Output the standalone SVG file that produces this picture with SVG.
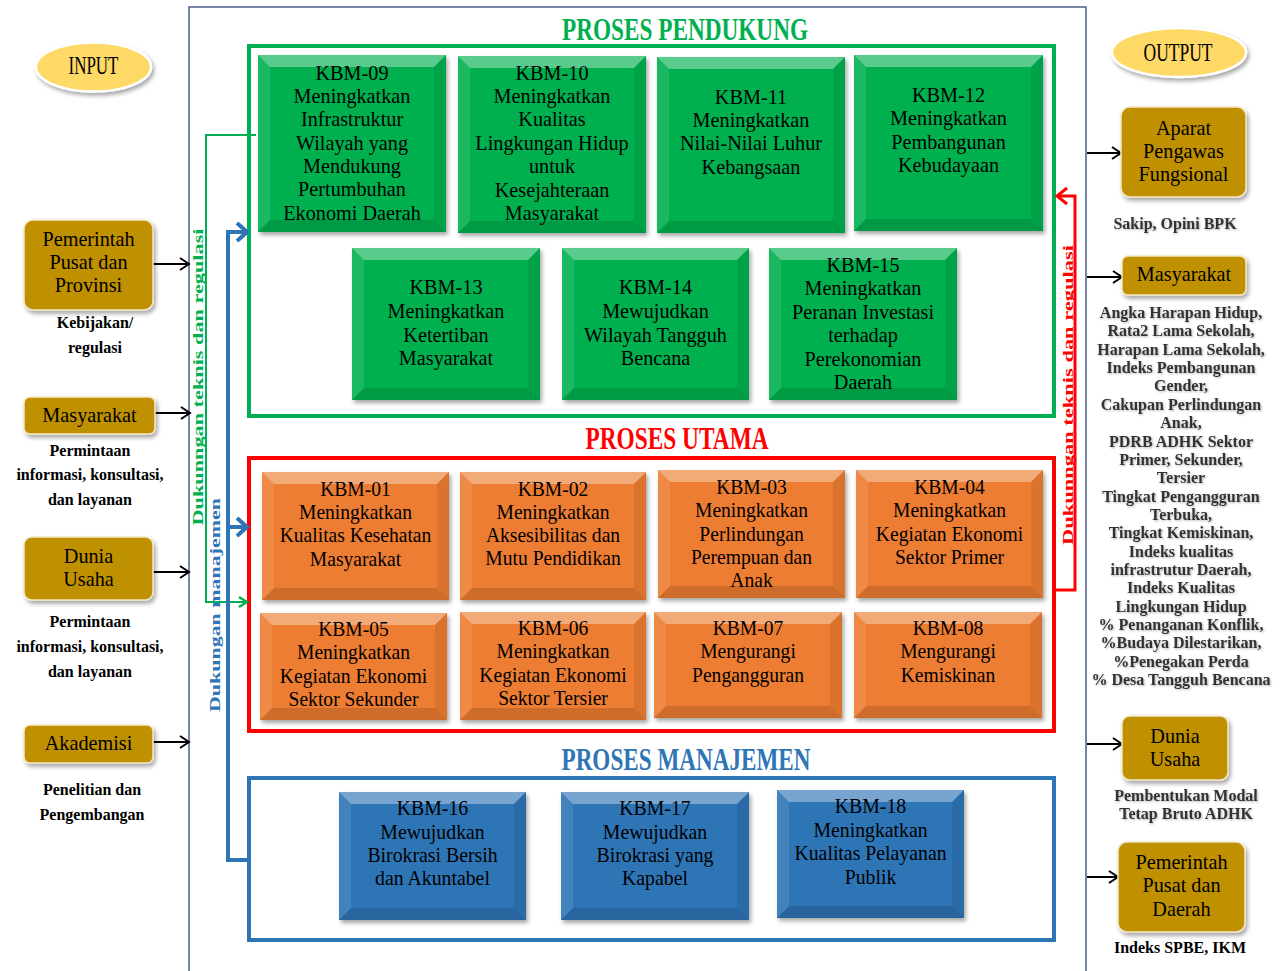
<svg xmlns="http://www.w3.org/2000/svg" width="1281" height="971" viewBox="0 0 1281 971">
<defs>
<style>
.kt{font-family:"Liberation Serif","Times New Roman",serif;font-size:22px;text-anchor:middle;fill:#000}
.gt{font-family:"Liberation Serif","Times New Roman",serif;font-size:22px;text-anchor:middle;fill:#000}
.lb{font-family:"Liberation Serif","Times New Roman",serif;font-weight:bold;font-size:16px;text-anchor:middle;fill:#000}
.rb{font-family:"Liberation Serif","Times New Roman",serif;font-weight:bold;font-size:16px;text-anchor:middle;fill:#333}
.ttl{font-family:"Liberation Serif","Times New Roman",serif;font-weight:bold;font-size:32px;text-anchor:middle}
.rot{font-family:"Liberation Serif","Times New Roman",serif;font-weight:bold;font-size:15px;text-anchor:middle}
.g{fill:#00b050}
.o{fill:#ed7d31}
.b{fill:#2e75b6}
.bt{fill:#fff;opacity:.35}
.bb{fill:#000;opacity:.13}
.bl{fill:#fff;opacity:.1}
.br{fill:#000;opacity:.08}
.gold{fill:#bf9000;stroke:#f2e6c4;stroke-width:1.5}
.ell{fill:#ffd966;stroke:#fff;stroke-width:2.5}
.ka{fill:none;stroke:#000;stroke-width:2}
</style>
<filter id="sh" x="-10%" y="-10%" width="130%" height="130%">
<feDropShadow dx="2" dy="3" stdDeviation="2" flood-color="#000" flood-opacity="0.35"/>
</filter>
<filter id="ts" x="-5%" y="-20%" width="110%" height="150%">
<feDropShadow dx="1" dy="1" stdDeviation="0.8" flood-color="#000" flood-opacity="0.3"/>
</filter>
<marker id="ak" markerUnits="userSpaceOnUse" markerWidth="14" markerHeight="14" refX="12" refY="7" orient="auto" overflow="visible"><path d="M3,1 L12,7 L3,13" fill="none" stroke="#000" stroke-width="2"/></marker>
<marker id="ab" markerUnits="userSpaceOnUse" markerWidth="14" markerHeight="20" refX="12" refY="10" orient="auto" overflow="visible"><path d="M2,1 L12,10 L2,19" fill="none" stroke="#2e75b6" stroke-width="4"/></marker>
<marker id="ag" markerUnits="userSpaceOnUse" markerWidth="12" markerHeight="12" refX="10" refY="6" orient="auto" overflow="visible"><path d="M2,1 L10,6 L2,11" fill="none" stroke="#00b050" stroke-width="2.5"/></marker>
<marker id="ar" markerUnits="userSpaceOnUse" markerWidth="14" markerHeight="18" refX="12" refY="9" orient="auto" overflow="visible"><path d="M2,1 L12,9 L2,17" fill="none" stroke="#ff0000" stroke-width="3"/></marker>
</defs>
<rect width="1281" height="971" fill="#fff"/>

<g id="frame">
<rect x="189" y="7" width="897" height="975" fill="none" stroke="#4a5f8c" stroke-width="1.5"/>
</g>

<g id="group-pendukung">
<text class="ttl" x="685" y="40" fill="#00b050" textLength="246" lengthAdjust="spacingAndGlyphs">PROSES PENDUKUNG</text>
<rect x="249" y="46" width="805" height="370" fill="none" stroke="#00b050" stroke-width="4"/>
</g>
<g id="group-utama">
<text class="ttl" x="677" y="449" fill="#ff0000" textLength="183" lengthAdjust="spacingAndGlyphs">PROSES UTAMA</text>
<rect x="249" y="458" width="805" height="273" fill="none" stroke="#ff0000" stroke-width="4"/>
</g>
<g id="group-manajemen">
<text class="ttl" x="686" y="770" fill="#2e75b6" textLength="249" lengthAdjust="spacingAndGlyphs">PROSES MANAJEMEN</text>
<rect x="249" y="778" width="805" height="162" fill="none" stroke="#2e75b6" stroke-width="4"/>
</g>

<g id="connectors">
<path d="M256,135 H206 V602 H247" fill="none" stroke="#00b050" stroke-width="2" marker-end="url(#ag)"/>
<path d="M249,860 H228 V232 H247" fill="none" stroke="#2e75b6" stroke-width="4" marker-end="url(#ab)"/>
<path d="M228,527 H247" fill="none" stroke="#2e75b6" stroke-width="4" marker-end="url(#ab)"/>
<path d="M1054,590 H1075 V196 H1057" fill="none" stroke="#ff0000" stroke-width="3" marker-end="url(#ar)"/>
<line class="ka" x1="153" y1="264" x2="189" y2="264" marker-end="url(#ak)"/>
<line class="ka" x1="155" y1="413" x2="190" y2="413" marker-end="url(#ak)"/>
<line class="ka" x1="153" y1="572" x2="189" y2="572" marker-end="url(#ak)"/>
<line class="ka" x1="153" y1="742" x2="189" y2="742" marker-end="url(#ak)"/>
<line class="ka" x1="1087" y1="153" x2="1121" y2="153" marker-end="url(#ak)"/>
<line class="ka" x1="1087" y1="277" x2="1122" y2="277" marker-end="url(#ak)"/>
<line class="ka" x1="1087" y1="744" x2="1122" y2="744" marker-end="url(#ak)"/>
<line class="ka" x1="1087" y1="877" x2="1118" y2="877" marker-end="url(#ak)"/>
<text class="rot" fill="#00b050" transform="translate(203,377) rotate(-90)" textLength="297" lengthAdjust="spacingAndGlyphs">Dukunngan teknis dan regulasi</text>
<text class="rot" fill="#2e75b6" transform="translate(220,605) rotate(-90)" textLength="214" lengthAdjust="spacingAndGlyphs">Dukungan manajemen</text>
<text class="rot" fill="#ff0000" transform="translate(1073,395) rotate(-90)" textLength="300" lengthAdjust="spacingAndGlyphs">Dukunngan teknis dan regulasi</text>
</g>

<!-- Green boxes -->
<g id="kbm-09">
<rect class="g" x="258" y="55" width="188" height="177" filter="url(#sh)"/>
<path class="bt" d="M258,55 h188 l-12,12 h-164 z"/><path class="bb" d="M258,232 h188 l-12,-12 h-164 z"/><path class="bl" d="M258,55 l12,12 v153 l-12,12 z"/><path class="br" d="M446,55 l-12,12 v153 l12,12 z"/>
<text class="kt" transform="translate(352,0) scale(0.92,1)"><tspan x="0" y="80">KBM-09</tspan><tspan x="0" y="103">Meningkatkan</tspan><tspan x="0" y="126">Infrastruktur</tspan><tspan x="0" y="150">Wilayah yang</tspan><tspan x="0" y="173">Mendukung</tspan><tspan x="0" y="196">Pertumbuhan</tspan><tspan x="0" y="220">Ekonomi Daerah</tspan></text>
</g>
<g id="kbm-10">
<rect class="g" x="458" y="56" width="188" height="177" filter="url(#sh)"/>
<path class="bt" d="M458,56 h188 l-12,12 h-164 z"/><path class="bb" d="M458,233 h188 l-12,-12 h-164 z"/><path class="bl" d="M458,56 l12,12 v153 l-12,12 z"/><path class="br" d="M646,56 l-12,12 v153 l12,12 z"/>
<text class="kt" transform="translate(552,0) scale(0.92,1)"><tspan x="0" y="80">KBM-10</tspan><tspan x="0" y="103">Meningkatkan</tspan><tspan x="0" y="126">Kualitas</tspan><tspan x="0" y="150">Lingkungan Hidup</tspan><tspan x="0" y="173">untuk</tspan><tspan x="0" y="197">Kesejahteraan</tspan><tspan x="0" y="220">Masyarakat</tspan></text>
</g>
<g id="kbm-11">
<rect class="g" x="657" y="57" width="188" height="176" filter="url(#sh)"/>
<path class="bt" d="M657,57 h188 l-12,12 h-164 z"/><path class="bb" d="M657,233 h188 l-12,-12 h-164 z"/><path class="bl" d="M657,57 l12,12 v152 l-12,12 z"/><path class="br" d="M845,57 l-12,12 v152 l12,12 z"/>
<text class="kt" transform="translate(751,0) scale(0.92,1)"><tspan x="0" y="104">KBM-11</tspan><tspan x="0" y="127">Meningkatkan</tspan><tspan x="0" y="150">Nilai-Nilai Luhur</tspan><tspan x="0" y="174">Kebangsaan</tspan></text>
</g>
<g id="kbm-12">
<rect class="g" x="854" y="55" width="189" height="176" filter="url(#sh)"/>
<path class="bt" d="M854,55 h189 l-12,12 h-165 z"/><path class="bb" d="M854,231 h189 l-12,-12 h-165 z"/><path class="bl" d="M854,55 l12,12 v152 l-12,12 z"/><path class="br" d="M1043,55 l-12,12 v152 l12,12 z"/>
<text class="kt" transform="translate(948.5,0) scale(0.92,1)"><tspan x="0" y="102">KBM-12</tspan><tspan x="0" y="125">Meningkatkan</tspan><tspan x="0" y="149">Pembangunan</tspan><tspan x="0" y="172">Kebudayaan</tspan></text>
</g>
<g id="kbm-13">
<rect class="g" x="352" y="248" width="188" height="152" filter="url(#sh)"/>
<path class="bt" d="M352,248 h188 l-12,12 h-164 z"/><path class="bb" d="M352,400 h188 l-12,-12 h-164 z"/><path class="bl" d="M352,248 l12,12 v128 l-12,12 z"/><path class="br" d="M540,248 l-12,12 v128 l12,12 z"/>
<text class="kt" transform="translate(446,0) scale(0.92,1)"><tspan x="0" y="294">KBM-13</tspan><tspan x="0" y="318">Meningkatkan</tspan><tspan x="0" y="342">Ketertiban</tspan><tspan x="0" y="365">Masyarakat</tspan></text>
</g>
<g id="kbm-14">
<rect class="g" x="562" y="248" width="187" height="152" filter="url(#sh)"/>
<path class="bt" d="M562,248 h187 l-12,12 h-163 z"/><path class="bb" d="M562,400 h187 l-12,-12 h-163 z"/><path class="bl" d="M562,248 l12,12 v128 l-12,12 z"/><path class="br" d="M749,248 l-12,12 v128 l12,12 z"/>
<text class="kt" transform="translate(655.5,0) scale(0.92,1)"><tspan x="0" y="294">KBM-14</tspan><tspan x="0" y="318">Mewujudkan</tspan><tspan x="0" y="342">Wilayah Tangguh</tspan><tspan x="0" y="365">Bencana</tspan></text>
</g>
<g id="kbm-15">
<rect class="g" x="769" y="248" width="188" height="152" filter="url(#sh)"/>
<path class="bt" d="M769,248 h188 l-12,12 h-164 z"/><path class="bb" d="M769,400 h188 l-12,-12 h-164 z"/><path class="bl" d="M769,248 l12,12 v128 l-12,12 z"/><path class="br" d="M957,248 l-12,12 v128 l12,12 z"/>
<text class="kt" transform="translate(863,0) scale(0.92,1)"><tspan x="0" y="272">KBM-15</tspan><tspan x="0" y="295">Meningkatkan</tspan><tspan x="0" y="319">Peranan Investasi</tspan><tspan x="0" y="342">terhadap</tspan><tspan x="0" y="366">Perekonomian</tspan><tspan x="0" y="389">Daerah</tspan></text>
</g>

<!-- Orange boxes -->
<g id="kbm-01">
<rect class="o" x="262" y="472" width="187" height="128" filter="url(#sh)"/>
<path class="bt" d="M262,472 h187 l-12,12 h-163 z"/><path class="bb" d="M262,600 h187 l-12,-12 h-163 z"/><path class="bl" d="M262,472 l12,12 v104 l-12,12 z"/><path class="br" d="M449,472 l-12,12 v104 l12,12 z"/>
<text class="kt" transform="translate(355.5,0) scale(0.89,1)"><tspan x="0" y="496">KBM-01</tspan><tspan x="0" y="519">Meningkatkan</tspan><tspan x="0" y="542">Kualitas Kesehatan</tspan><tspan x="0" y="566">Masyarakat</tspan></text>
</g>
<g id="kbm-02">
<rect class="o" x="460" y="472" width="186" height="128" filter="url(#sh)"/>
<path class="bt" d="M460,472 h186 l-12,12 h-162 z"/><path class="bb" d="M460,600 h186 l-12,-12 h-162 z"/><path class="bl" d="M460,472 l12,12 v104 l-12,12 z"/><path class="br" d="M646,472 l-12,12 v104 l12,12 z"/>
<text class="kt" transform="translate(553,0) scale(0.89,1)"><tspan x="0" y="496">KBM-02</tspan><tspan x="0" y="519">Meningkatkan</tspan><tspan x="0" y="542">Aksesibilitas dan</tspan><tspan x="0" y="565">Mutu Pendidikan</tspan></text>
</g>
<g id="kbm-03">
<rect class="o" x="658" y="470" width="187" height="128" filter="url(#sh)"/>
<path class="bt" d="M658,470 h187 l-12,12 h-163 z"/><path class="bb" d="M658,598 h187 l-12,-12 h-163 z"/><path class="bl" d="M658,470 l12,12 v104 l-12,12 z"/><path class="br" d="M845,470 l-12,12 v104 l12,12 z"/>
<text class="kt" transform="translate(751.5,0) scale(0.89,1)"><tspan x="0" y="494">KBM-03</tspan><tspan x="0" y="517">Meningkatkan</tspan><tspan x="0" y="541">Perlindungan</tspan><tspan x="0" y="564">Perempuan dan</tspan><tspan x="0" y="587">Anak</tspan></text>
</g>
<g id="kbm-04">
<rect class="o" x="856" y="470" width="187" height="128" filter="url(#sh)"/>
<path class="bt" d="M856,470 h187 l-12,12 h-163 z"/><path class="bb" d="M856,598 h187 l-12,-12 h-163 z"/><path class="bl" d="M856,470 l12,12 v104 l-12,12 z"/><path class="br" d="M1043,470 l-12,12 v104 l12,12 z"/>
<text class="kt" transform="translate(949.5,0) scale(0.89,1)"><tspan x="0" y="494">KBM-04</tspan><tspan x="0" y="517">Meningkatkan</tspan><tspan x="0" y="541">Kegiatan Ekonomi</tspan><tspan x="0" y="564">Sektor Primer</tspan></text>
</g>
<g id="kbm-05">
<rect class="o" x="260" y="613" width="187" height="107" filter="url(#sh)"/>
<path class="bt" d="M260,613 h187 l-12,12 h-163 z"/><path class="bb" d="M260,720 h187 l-12,-12 h-163 z"/><path class="bl" d="M260,613 l12,12 v83 l-12,12 z"/><path class="br" d="M447,613 l-12,12 v83 l12,12 z"/>
<text class="kt" transform="translate(353.5,0) scale(0.89,1)"><tspan x="0" y="636">KBM-05</tspan><tspan x="0" y="659">Meningkatkan</tspan><tspan x="0" y="683">Kegiatan Ekonomi</tspan><tspan x="0" y="706">Sektor Sekunder</tspan></text>
</g>
<g id="kbm-06">
<rect class="o" x="460" y="612" width="186" height="108" filter="url(#sh)"/>
<path class="bt" d="M460,612 h186 l-12,12 h-162 z"/><path class="bb" d="M460,720 h186 l-12,-12 h-162 z"/><path class="bl" d="M460,612 l12,12 v84 l-12,12 z"/><path class="br" d="M646,612 l-12,12 v84 l12,12 z"/>
<text class="kt" transform="translate(553,0) scale(0.89,1)"><tspan x="0" y="635">KBM-06</tspan><tspan x="0" y="658">Meningkatkan</tspan><tspan x="0" y="682">Kegiatan Ekonomi</tspan><tspan x="0" y="705">Sektor Tersier</tspan></text>
</g>
<g id="kbm-07">
<rect class="o" x="654" y="612" width="188" height="106" filter="url(#sh)"/>
<path class="bt" d="M654,612 h188 l-12,12 h-164 z"/><path class="bb" d="M654,718 h188 l-12,-12 h-164 z"/><path class="bl" d="M654,612 l12,12 v82 l-12,12 z"/><path class="br" d="M842,612 l-12,12 v82 l12,12 z"/>
<text class="kt" transform="translate(748,0) scale(0.89,1)"><tspan x="0" y="635">KBM-07</tspan><tspan x="0" y="658">Mengurangi</tspan><tspan x="0" y="682">Pengangguran</tspan></text>
</g>
<g id="kbm-08">
<rect class="o" x="854" y="612" width="188" height="106" filter="url(#sh)"/>
<path class="bt" d="M854,612 h188 l-12,12 h-164 z"/><path class="bb" d="M854,718 h188 l-12,-12 h-164 z"/><path class="bl" d="M854,612 l12,12 v82 l-12,12 z"/><path class="br" d="M1042,612 l-12,12 v82 l12,12 z"/>
<text class="kt" transform="translate(948,0) scale(0.89,1)"><tspan x="0" y="635">KBM-08</tspan><tspan x="0" y="658">Mengurangi</tspan><tspan x="0" y="682">Kemiskinan</tspan></text>
</g>

<!-- Blue boxes -->
<g id="kbm-16">
<rect class="b" x="339" y="792" width="187" height="128" filter="url(#sh)"/>
<path class="bt" d="M339,792 h187 l-12,12 h-163 z"/><path class="bb" d="M339,920 h187 l-12,-12 h-163 z"/><path class="bl" d="M339,792 l12,12 v104 l-12,12 z"/><path class="br" d="M526,792 l-12,12 v104 l12,12 z"/>
<text class="kt" transform="translate(432.5,0) scale(0.9,1)"><tspan x="0" y="815">KBM-16</tspan><tspan x="0" y="839">Mewujudkan</tspan><tspan x="0" y="862">Birokrasi Bersih</tspan><tspan x="0" y="885">dan Akuntabel</tspan></text>
</g>
<g id="kbm-17">
<rect class="b" x="561" y="792" width="188" height="128" filter="url(#sh)"/>
<path class="bt" d="M561,792 h188 l-12,12 h-164 z"/><path class="bb" d="M561,920 h188 l-12,-12 h-164 z"/><path class="bl" d="M561,792 l12,12 v104 l-12,12 z"/><path class="br" d="M749,792 l-12,12 v104 l12,12 z"/>
<text class="kt" transform="translate(655,0) scale(0.9,1)"><tspan x="0" y="815">KBM-17</tspan><tspan x="0" y="839">Mewujudkan</tspan><tspan x="0" y="862">Birokrasi yang</tspan><tspan x="0" y="885">Kapabel</tspan></text>
</g>
<g id="kbm-18">
<rect class="b" x="777" y="790" width="187" height="128" filter="url(#sh)"/>
<path class="bt" d="M777,790 h187 l-12,12 h-163 z"/><path class="bb" d="M777,918 h187 l-12,-12 h-163 z"/><path class="bl" d="M777,790 l12,12 v104 l-12,12 z"/><path class="br" d="M964,790 l-12,12 v104 l12,12 z"/>
<text class="kt" transform="translate(870.5,0) scale(0.9,1)"><tspan x="0" y="813">KBM-18</tspan><tspan x="0" y="837">Meningkatkan</tspan><tspan x="0" y="860">Kualitas Pelayanan</tspan><tspan x="0" y="884">Publik</tspan></text>
</g>

<!-- Inputs -->
<g id="input-label">
<ellipse class="ell" cx="93.5" cy="67" rx="57.5" ry="24.5" filter="url(#sh)"/>
<text class="gt" x="93.5" y="74" style="font-size:26px" textLength="50" lengthAdjust="spacingAndGlyphs">INPUT</text>
</g>
<g id="in-pemerintah">
<rect class="gold" x="24" y="220" width="129" height="90" rx="9" filter="url(#sh)"/>
<text class="gt" transform="translate(88.5,0) scale(0.92,1)"><tspan x="0" y="246">Pemerintah</tspan><tspan x="0" y="269">Pusat dan</tspan><tspan x="0" y="292">Provinsi</tspan></text>
<text class="lb"><tspan x="95" y="328">Kebijakan/</tspan><tspan x="95" y="353">regulasi</tspan></text>
</g>
<g id="in-masyarakat">
<rect class="gold" x="24" y="397" width="131" height="37" rx="6" filter="url(#sh)"/>
<text class="gt" transform="translate(89.5,0) scale(0.92,1)" x="0" y="422">Masyarakat</text>
<text class="lb"><tspan x="90" y="456">Permintaan</tspan><tspan x="90" y="480">informasi, konsultasi,</tspan><tspan x="90" y="505">dan layanan</tspan></text>
</g>
<g id="in-dunia-usaha">
<rect class="gold" x="24" y="537" width="129" height="63" rx="8" filter="url(#sh)"/>
<text class="gt" transform="translate(88.5,0) scale(0.92,1)"><tspan x="0" y="563">Dunia</tspan><tspan x="0" y="586">Usaha</tspan></text>
<text class="lb"><tspan x="90" y="627">Permintaan</tspan><tspan x="90" y="652">informasi, konsultasi,</tspan><tspan x="90" y="677">dan layanan</tspan></text>
</g>
<g id="in-akademisi">
<rect class="gold" x="24" y="725" width="129" height="38" rx="6" filter="url(#sh)"/>
<text class="gt" transform="translate(88.5,0) scale(0.92,1)" x="0" y="750">Akademisi</text>
<text class="lb"><tspan x="92" y="795">Penelitian dan</tspan><tspan x="92" y="820">Pengembangan</tspan></text>
</g>

<!-- Outputs -->
<g id="output-label">
<ellipse class="ell" cx="1179" cy="52.5" rx="67" ry="24.5" filter="url(#sh)"/>
<text class="gt" x="1178" y="61" style="font-size:26px" textLength="69" lengthAdjust="spacingAndGlyphs">OUTPUT</text>
</g>
<g id="out-aparat">
<rect class="gold" x="1121" y="107" width="125" height="90" rx="9" filter="url(#sh)"/>
<text class="gt" transform="translate(1183.5,0) scale(0.92,1)"><tspan x="0" y="135">Aparat</tspan><tspan x="0" y="158">Pengawas</tspan><tspan x="0" y="181">Fungsional</tspan></text>
<text class="rb" x="1175" y="229" filter="url(#ts)">Sakip, Opini BPK</text>
</g>
<g id="out-masyarakat">
<rect class="gold" x="1122" y="256" width="124" height="39" rx="6" filter="url(#sh)"/>
<text class="gt" transform="translate(1184,0) scale(0.92,1)" x="0" y="281">Masyarakat</text>
<text class="rb" filter="url(#ts)"><tspan x="1181" y="318">Angka Harapan Hidup,</tspan><tspan x="1181" y="336.4">Rata2 Lama Sekolah,</tspan><tspan x="1181" y="354.7">Harapan Lama Sekolah,</tspan><tspan x="1181" y="373">Indeks Pembangunan</tspan><tspan x="1181" y="391.4">Gender,</tspan><tspan x="1181" y="409.8">Cakupan Perlindungan</tspan><tspan x="1181" y="428.1">Anak,</tspan><tspan x="1181" y="446.5">PDRB ADHK Sektor</tspan><tspan x="1181" y="464.8">Primer, Sekunder,</tspan><tspan x="1181" y="483.2">Tersier</tspan><tspan x="1181" y="501.5">Tingkat Pengangguran</tspan><tspan x="1181" y="519.9">Terbuka,</tspan><tspan x="1181" y="538.2">Tingkat Kemiskinan,</tspan><tspan x="1181" y="556.6">Indeks kualitas</tspan><tspan x="1181" y="574.9">infrastrutur Daerah,</tspan><tspan x="1181" y="593.3">Indeks Kualitas</tspan><tspan x="1181" y="611.6">Lingkungan Hidup</tspan><tspan x="1181" y="630">% Penanganan Konflik,</tspan><tspan x="1181" y="648.3">%Budaya Dilestarikan,</tspan><tspan x="1181" y="666.7">%Penegakan Perda</tspan><tspan x="1181" y="685">% Desa Tangguh Bencana</tspan></text>
</g>
<g id="out-dunia-usaha">
<rect class="gold" x="1122" y="716" width="106" height="64" rx="8" filter="url(#sh)"/>
<text class="gt" transform="translate(1175,0) scale(0.92,1)"><tspan x="0" y="743">Dunia</tspan><tspan x="0" y="766">Usaha</tspan></text>
<text class="rb" filter="url(#ts)"><tspan x="1186" y="801">Pembentukan Modal</tspan><tspan x="1186" y="819">Tetap Bruto ADHK</tspan></text>
</g>
<g id="out-pemerintah">
<rect class="gold" x="1118" y="842" width="127" height="90" rx="9" filter="url(#sh)"/>
<text class="gt" transform="translate(1181.5,0) scale(0.92,1)"><tspan x="0" y="869">Pemerintah</tspan><tspan x="0" y="892">Pusat dan</tspan><tspan x="0" y="916">Daerah</tspan></text>
<text class="lb" x="1180" y="953">Indeks SPBE, IKM</text>
</g>
</svg>
